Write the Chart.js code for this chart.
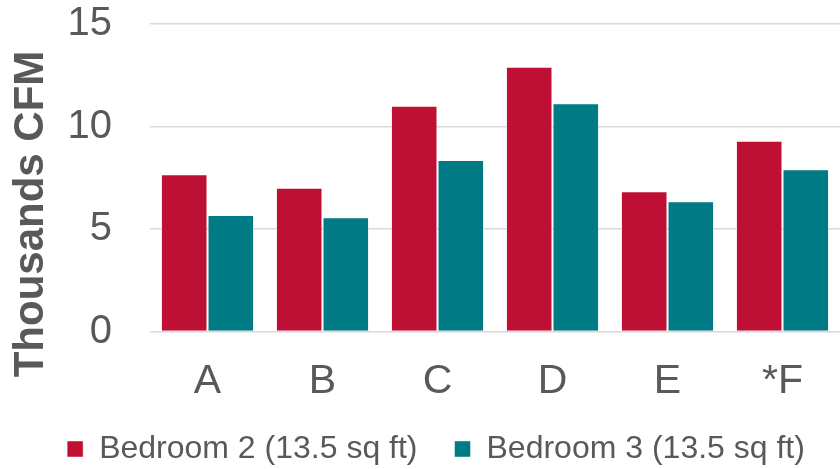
<!DOCTYPE html>
<html>
<head>
<meta charset="utf-8">
<script src="https://cdn.jsdelivr.net/npm/chart.js@4/dist/chart.umd.min.js"></script>
<style>
  html, body { margin: 0; padding: 0; background: #fff; }
  #wrap { width: 840px; height: 469px; }
</style>
</head>
<body>
<div id="wrap"><canvas id="cfm" width="840" height="469"></canvas></div>
<script>
// Airflow per room, in thousands of CFM
const categories = ['A', 'B', 'C', 'D', 'E', '*F'];
const bedroom2 = [7.67, 7.01, 11.01, 12.92, 6.84, 9.31];
const bedroom3 = [5.68, 5.57, 8.37, 11.13, 6.35, 7.91];
const seriesNames = ['Bedroom 2 (13.5 sq ft)', 'Bedroom 3 (13.5 sq ft)'];
const yTitle = 'Thousands CFM';

const FONT = '"Liberation Sans", Arial, Helvetica, sans-serif';
const GREY = '#595959';

// rotated axis title, drawn by hand so it can sit a bit below centre
const yTitlePlugin = {
  id: 'yTitle',
  afterDraw(chart) {
    const ctx = chart.ctx;
    ctx.save();
    ctx.translate(43, 214);
    ctx.rotate(-Math.PI / 2);
    ctx.font = 'bold 42px ' + FONT;
    ctx.fillStyle = GREY;
    ctx.textAlign = 'center';
    ctx.textBaseline = 'alphabetic';
    ctx.fillText(yTitle, 0, 0);
    ctx.restore();
  }
};

// legend padding sets the gap between items but also makes the box tall;
// shrink it for layout, then slide it to where it should sit
const legendPlacePlugin = {
  id: 'legendPlace',
  beforeLayout(chart) {
    const lg = chart.legend;
    if (lg && !lg._capped) {
      const fit = lg.fit;
      lg.fit = function () {
        fit.call(this);
        this.height = 62.5;
      };
      lg._capped = true;
    }
  },
  afterLayout(chart) {
    const lg = chart.legend;
    lg.top = 396;
    lg.bottom = 480;
    lg.height = lg.bottom - lg.top;
    lg.left += 16;
    lg.right += 16;
  }
};

const ctx = document.getElementById('cfm').getContext('2d');

new Chart(ctx, {
  type: 'bar',
  data: {
    labels: categories,
    datasets: [
      {
        label: seriesNames[0],
        data: bedroom2,
        backgroundColor: '#BE1034',
        borderColor: 'rgba(255,255,255,0.45)',
        borderWidth: 1,
      },
      {
        label: seriesNames[1],
        data: bedroom3,
        backgroundColor: '#007A85',
        borderColor: 'rgba(255,255,255,0.45)',
        borderWidth: 1,
      },
    ],
  },
  options: {
    responsive: false,
    animation: false,
    categoryPercentage: 0.81,
    barPercentage: 1.0,
    layout: {
      padding: 0,
    },
    scales: {
      x: {
        grid: { display: false, drawTicks: false },
        border: { display: false },
        ticks: {
          color: GREY,
          font: { family: FONT, size: 41 },
          padding: 26,
        },
        afterFit: (scale) => { scale.height = 75; },
      },
      y: {
        min: 0,
        max: 15,
        grid: { color: '#d9d9d9', lineWidth: 1.5, drawTicks: false },
        border: { display: false },
        ticks: {
          stepSize: 5,
          color: GREY,
          font: { family: FONT, size: 40 },
          padding: 38,
        },
        afterFit: (scale) => {
          scale.width = 150;
          // tick padding should only push labels sideways
          scale.paddingTop = 24;
          scale.paddingBottom = 24;
        },
      },
    },
    plugins: {
      legend: {
        position: 'bottom',
        labels: {
          color: GREY,
          font: { family: FONT, size: 32 },
          boxWidth: 16,
          boxHeight: 16,
          padding: 37,
        },
      },
      tooltip: { enabled: false },
    },
  },
  plugins: [yTitlePlugin, legendPlacePlugin],
});
</script>
</body>
</html>
